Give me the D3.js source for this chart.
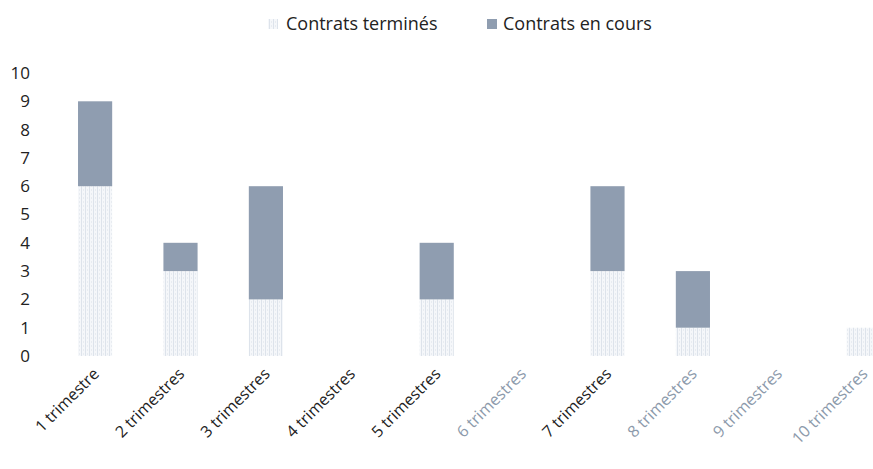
<!DOCTYPE html>
<html>
<head>
<meta charset="utf-8">
<script src="https://cdn.jsdelivr.net/npm/d3@7"></script>
<style>
  html, body { margin: 0; padding: 0; background: #ffffff; }
  svg { display: block; }
  text { font-family: "Open Sans", "Noto Sans", sans-serif; }
</style>
</head>
<body>
<svg id="chart" width="873" height="469"></svg>
<script>
const categories = ["1 trimestre", "2 trimestres", "3 trimestres", "4 trimestres", "5 trimestres",
                    "6 trimestres", "7 trimestres", "8 trimestres", "9 trimestres", "10 trimestres"];
const termines = [6, 3, 2, 0, 2, 0, 3, 1, 0, 1];
const enCours  = [3, 1, 4, 0, 2, 0, 3, 2, 0, 0];
const seriesNames = ["Contrats terminés", "Contrats en cours"];
const yTicks = [0, 1, 2, 3, 4, 5, 6, 7, 8, 9, 10];
const fadedLabels = ["6 trimestres", "8 trimestres", "9 trimestres", "10 trimestres"];

const W = 873, H = 469;
const svg = d3.select("#chart");

const defs = svg.append("defs");
const pat = defs.append("pattern")
  .attr("id", "dots")
  .attr("patternUnits", "userSpaceOnUse")
  .attr("width", 4).attr("height", 4);
pat.append("rect").attr("width", 4).attr("height", 4).attr("fill", "#f5f7fa");
pat.append("rect").attr("x", 1).attr("width", 1).attr("height", 4).attr("fill", "#dde3eb");
pat.append("rect").attr("x", 3).attr("y", 1).attr("width", 1).attr("height", 2).attr("fill", "#e8ecf1");

const x = d3.scaleBand()
  .domain(categories)
  .range([52.4, 906.4])
  .paddingInner(0.6)
  .paddingOuter(0.3);

const y = d3.scaleLinear().domain([0, 10]).range([356, 73]);

const rows = categories.map((c, i) => ({ cat: c, termines: termines[i], enCours: enCours[i] }));
const stack = d3.stack().keys(["termines", "enCours"]);
const stacked = stack(rows);
const fills = ["url(#dots)", "#8f9db0"];

svg.append("g").selectAll("g")
  .data(stacked)
  .join("g")
  .attr("fill", (d, i) => fills[i])
  .selectAll("rect")
  .data(d => d.filter(v => v[1] - v[0] > 0))
  .join("rect")
  .attr("x", d => x(d.data.cat))
  .attr("width", x.bandwidth())
  .attr("y", d => y(d[1]))
  .attr("height", d => y(d[0]) - y(d[1]));

// Y axis
const yAxis = d3.axisLeft(y).tickValues(yTicks).tickSize(0).tickPadding(0).tickFormat(d3.format("d"));
const gy = svg.append("g").attr("transform", "translate(30,0)").call(yAxis);
gy.select(".domain").remove();
gy.selectAll("text").attr("font-size", 17).attr("fill", "#222").attr("font-family", "\"Open Sans\", sans-serif");

// X axis
const xAxis = d3.axisBottom(x).tickSize(0).tickPadding(0);
const gx = svg.append("g").attr("transform", "translate(0,371)").call(xAxis);
gx.select(".domain").remove();
gx.selectAll("text")
  .attr("font-size", 16)
  .attr("font-family", "\"Open Sans\", sans-serif")
  .attr("fill", d => fadedLabels.includes(d) ? "#8c9aab" : "#222")
  .attr("text-anchor", "end")
  .attr("dy", "0.35em")
  .attr("transform", "translate(1,0) rotate(-45)");

// Legend
const legend = svg.append("g");
const legendItems = [
  { name: seriesNames[0], fill: "url(#dots)", mx: 268, tx: 286 },
  { name: seriesNames[1], fill: "#8f9db0", mx: 487, tx: 503 }
];
legendItems.forEach(it => {
  legend.append("rect").attr("x", it.mx).attr("y", 19).attr("width", 10).attr("height", 10).attr("fill", it.fill);
  legend.append("text").attr("x", it.tx).attr("y", 30)
    .attr("font-size", 18).attr("fill", "#222").text(it.name);
});
</script>
</body>
</html>
